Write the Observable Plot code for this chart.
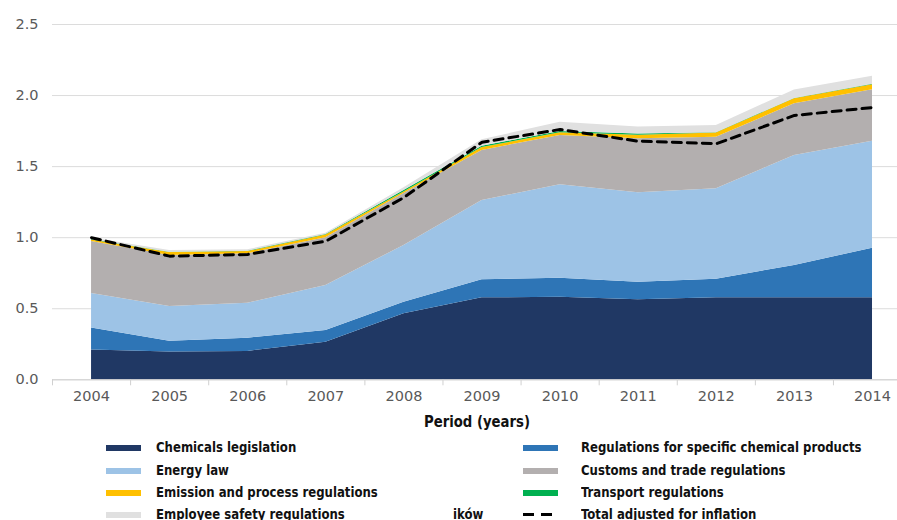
<!DOCTYPE html>
<html>
<head>
<meta charset="utf-8">
<script src="https://cdn.jsdelivr.net/npm/d3@7"></script>
<script src="https://cdn.jsdelivr.net/npm/@observablehq/plot@0.6"></script>
<style>
  html, body { margin: 0; padding: 0; background: #fff; overflow: hidden; }
  #wrap { position: relative; width: 897px; height: 520px; }
  #chart svg { display: block; }
  .leg { position: absolute; font-family: "DejaVu Sans Condensed", "DejaVu Sans", sans-serif; font-weight: bold; font-size: 14px; color: #111; white-space: nowrap; line-height: 16px; transform: scaleX(0.93); transform-origin: 0 50%; }
  .sw { position: absolute; width: 35px; height: 6px; }
  .xt { position: absolute; font-family: "DejaVu Sans Condensed", "DejaVu Sans", sans-serif; font-weight: bold; font-size: 15.5px; color: #111; white-space: nowrap; transform: scaleX(0.95); transform-origin: 50% 50%; }
</style>
</head>
<body>
<div id="wrap">
  <div id="chart"></div>
</div>
<script>
// ---- data ----
const years = [2004, 2005, 2006, 2007, 2008, 2009, 2010, 2011, 2012, 2013, 2014];
const seriesNames = [
  "Chemicals legislation",
  "Regulations for specific chemical products",
  "Energy law",
  "Customs and trade regulations",
  "Emission and process regulations",
  "Transport regulations",
  "Employee safety regulations"
];
const chemicals = [0.21, 0.195, 0.20, 0.265, 0.465, 0.577, 0.58, 0.563, 0.577, 0.577, 0.577];
const specific  = [0.155, 0.077, 0.093, 0.082, 0.081, 0.127, 0.135, 0.124, 0.131, 0.227, 0.349];
const energy    = [0.243, 0.244, 0.246, 0.317, 0.399, 0.558, 0.657, 0.629, 0.636, 0.774, 0.753];
const customs   = [0.366, 0.359, 0.348, 0.335, 0.365, 0.352, 0.347, 0.38, 0.362, 0.364, 0.362];
const emission  = [0.01, 0.02, 0.015, 0.02, 0.012, 0.02, 0.02, 0.025, 0.03, 0.035, 0.035];
const transport = [0.003, 0.003, 0.003, 0.003, 0.01, 0.01, 0.008, 0.008, 0.003, 0.003, 0.003];
const safety    = [0.01, 0.012, 0.01, 0.01, 0.02, 0.045, 0.065, 0.05, 0.05, 0.06, 0.056];
const totalInflation = [1.0, 0.87, 0.882, 0.975, 1.283, 1.672, 1.761, 1.679, 1.661, 1.86, 1.916];
const yTicks = [0, 0.5, 1.0, 1.5, 2.0, 2.5];
const colors = ["#203864", "#2e75b6", "#9dc3e6", "#b3afaf", "#ffc000", "#00b050", "#e0e0e0"];
const totalLabel = "Total adjusted for inflation";
const xTitle = "Period (years)";

// ---- build table ----
const seriesValues = [chemicals, specific, energy, customs, emission, transport, safety];
const rows = [];
seriesNames.forEach((name, i) => {
  years.forEach((yr, j) => rows.push({year: yr, value: seriesValues[i][j], series: name}));
});
const totalRows = years.map((yr, j) => ({year: yr, value: totalInflation[j]}));
const boundaries = years.map(y => y - 0.5).concat([years[years.length - 1] + 0.5]);

const chart = Plot.plot({
  width: 897,
  height: 436,
  marginLeft: 52,
  marginRight: 0,
  marginTop: 24,
  marginBottom: 56.7,
  x: {domain: [2003.5, 2014.32], axis: null, label: null},
  y: {domain: [0, 2.5], axis: null, label: null},
  color: {domain: seriesNames, range: colors},
  style: {fontFamily: "DejaVu Sans, sans-serif", background: "#fff"},
  marks: [
    Plot.gridY(yTicks, {stroke: "#dcdcdc", strokeOpacity: 1, strokeWidth: 1}),
    Plot.areaY(rows, Plot.stackY({x: "year", y: "value", z: "series", fill: "series", order: null})),
    Plot.lineY(totalRows, {x: "year", y: "value", stroke: "#000", strokeWidth: 3, strokeDasharray: "9,6"}),
    Plot.ruleY([0], {stroke: "#d0d0d0", strokeWidth: 1}),
    Plot.axisX(boundaries, {tickSize: 6, stroke: "#d0d0d0", tickFormat: () => "", label: null}),
    Plot.axisX(years, {tickSize: 0, tickPadding: 11, fontSize: 14.5, fill: "#595959", tickFormat: d => String(d), label: null}),
    Plot.axisY(yTicks, {tickSize: 0, tickPadding: 14, fontSize: 14.5, fill: "#595959", tickFormat: d3.format(".1f"), label: null})
  ]
});
document.getElementById("chart").appendChild(chart);

// ---- legend / titles ----
const wrap = document.getElementById("wrap");
function addText(cls, text, left, top) {
  const d = document.createElement("div");
  d.className = cls; d.textContent = text;
  d.style.left = left + "px"; d.style.top = top + "px";
  wrap.appendChild(d);
  return d;
}
const t = addText("xt", xTitle, 0, 413);
t.style.width = "954px"; t.style.textAlign = "center";

const leftCol = [0, 2, 4, 6];
const rightCol = [1, 3, 5];
const rowY = [448, 470.5, 492.5, 514.5];
function addSwatch(left, cy, color) {
  const s = document.createElement("div");
  s.className = "sw"; s.style.left = left + "px"; s.style.top = (cy - 3) + "px"; s.style.background = color;
  wrap.appendChild(s);
}
leftCol.forEach((idx, r) => {
  addSwatch(106, rowY[r], colors[idx]);
  addText("leg", seriesNames[idx], 156, rowY[r] - 9);
});
rightCol.forEach((idx, r) => {
  addSwatch(523, rowY[r], colors[idx]);
  addText("leg", seriesNames[idx], 581, rowY[r] - 9);
});
// dashed legend swatch
const ds = document.createElement("div");
ds.style.cssText = "position:absolute;left:523px;top:" + (rowY[3] - 1.5) + "px;width:35px;height:3px;background:repeating-linear-gradient(90deg,#000 0 11px,transparent 11px 18px);";
wrap.appendChild(ds);
addText("leg", totalLabel, 581, rowY[3] - 9);
addText("leg", "ików", 453, rowY[3] - 9);
</script>
</body>
</html>
